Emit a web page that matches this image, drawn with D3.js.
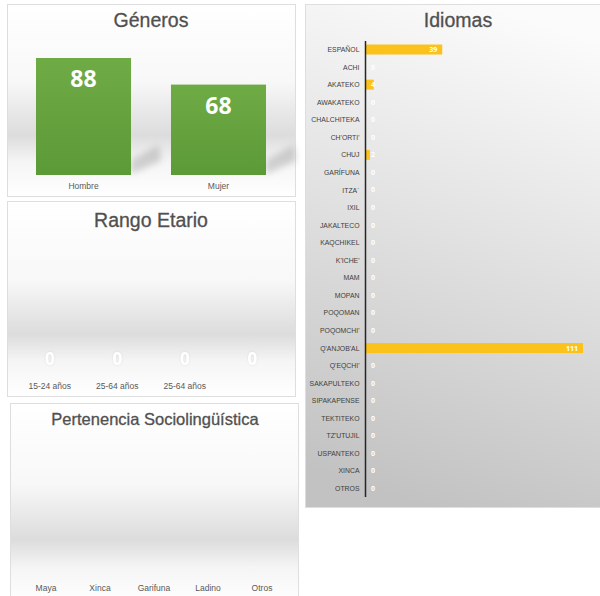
<!DOCTYPE html>
<html>
<head>
<meta charset="utf-8">
<script src="https://cdn.jsdelivr.net/npm/d3@7"></script>
<style>
  body { margin: 0; background: #fff; }
  svg { display: block; }
</style>
</head>
<body>
<div id="chart"></div>
<script>
// data
var generoCats = ["Hombre", "Mujer"];
var generoVals = [88, 68];

var edadCats = ["15-24 años", "25-64 años", "25-64 años", ""];
var edadVals = [0, 0, 0, 0];

var pertCats = ["Maya", "Xinca", "Garifuna", "Ladino", "Otros"];
var pertVals = [0, 0, 0, 0, 0];

var idiomaCats = ["ESPAÑOL", "ACHI", "AKATEKO", "AWAKATEKO", "CHALCHITEKA", "CH'ORTI'", "CHUJ",
  "GARÍFUNA", "ITZA´", "IXIL", "JAKALTECO", "KAQCHIKEL", "K'ICHE'", "MAM", "MOPAN", "POQOMAN",
  "POQOMCHI'", "Q'ANJOB'AL", "Q'EQCHI'", "SAKAPULTEKO", "SIPAKAPENSE", "TEKTITEKO", "TZ'UTUJIL",
  "USPANTEKO", "XINCA", "OTROS"];
var idiomaVals = [39, 0, 4, 0, 0, 0, 2, 0, 0, 0, 0, 0, 0, 0, 0, 0, 0, 111, 0, 0, 0, 0, 0, 0, 0, 0];

var svg = d3.select("#chart").append("svg")
  .attr("width", 600)
  .attr("height", 596);

var defs = svg.append("defs");

// floor-like background used by the three small panels
var floor = defs.append("linearGradient")
  .attr("id", "floor")
  .attr("x1", 0).attr("y1", 0).attr("x2", 0).attr("y2", 1);
floor.append("stop").attr("offset", "0%").attr("stop-color", "#ffffff");
floor.append("stop").attr("offset", "40%").attr("stop-color", "#f8f8f8");
floor.append("stop").attr("offset", "68%").attr("stop-color", "#dcdcdc");
floor.append("stop").attr("offset", "82%").attr("stop-color", "#f5f5f5");
floor.append("stop").attr("offset", "100%").attr("stop-color", "#ffffff");

var grayBg = defs.append("linearGradient")
  .attr("id", "grayBg")
  .attr("x1", 0.6).attr("y1", 0).attr("x2", 0.4).attr("y2", 1);
grayBg.append("stop").attr("offset", "0%").attr("stop-color", "#fbfbfb");
grayBg.append("stop").attr("offset", "45%").attr("stop-color", "#e2e2e2");
grayBg.append("stop").attr("offset", "100%").attr("stop-color", "#c2c2c2");

var green = defs.append("linearGradient")
  .attr("id", "green")
  .attr("x1", 0).attr("y1", 0).attr("x2", 0).attr("y2", 1);
green.append("stop").attr("offset", "0%").attr("stop-color", "#6fab45");
green.append("stop").attr("offset", "100%").attr("stop-color", "#5c9a38");

var blur = defs.append("filter").attr("id", "blur")
  .attr("x", "-50%").attr("y", "-50%").attr("width", "200%").attr("height", "200%");
blur.append("feGaussianBlur").attr("stdDeviation", 3);

var soft = defs.append("filter").attr("id", "soft")
  .attr("x", "-50%").attr("y", "-50%").attr("width", "200%").attr("height", "200%");
soft.append("feDropShadow").attr("dx", 0).attr("dy", 0).attr("stdDeviation", 1)
  .attr("flood-color", "#999").attr("flood-opacity", 0.25);

function panel(x, y, w, h, fill) {
  svg.append("rect")
    .attr("x", x).attr("y", y).attr("width", w).attr("height", h)
    .attr("fill", fill)
    .attr("stroke", "#dedede")
    .attr("stroke-width", 1);
}

function title(x, y, txt, size) {
  svg.append("text")
    .attr("x", x).attr("y", y)
    .attr("text-anchor", "middle")
    .attr("font-family", "Liberation Sans, Arial, sans-serif")
    .attr("font-size", size)
    .attr("fill", "#505050")
    .attr("stroke", "#505050")
    .attr("stroke-width", 0.3)
    .text(txt);
}

function catLabels(cats, xScale, y) {
  svg.append("g").selectAll("text")
    .data(cats)
    .enter()
    .append("text")
    .attr("x", (d, i) => xScale(i) + xScale.bandwidth() / 2)
    .attr("y", y)
    .attr("text-anchor", "middle")
    .attr("font-family", "Liberation Sans, Arial, sans-serif")
    .attr("font-size", 8.5)
    .attr("fill", "#595959")
    .text(d => d);
}

// ---- Géneros ----
panel(7.5, 4.5, 288, 192, "url(#floor)");
title(151, 27, "Géneros", 19.5);

var gx = d3.scaleBand()
  .domain(d3.range(generoCats.length))
  .range([36, 266])
  .paddingInner(0.296)
  .paddingOuter(0);
var gy = d3.scaleLinear()
  .domain([0, 88])
  .range([175, 58]);

// shadows cast behind bars
svg.append("g").selectAll("polygon")
  .data(generoVals)
  .enter()
  .append("polygon")
  .attr("points", function(d, i) {
    var x1 = gx(i) + gx.bandwidth();
    var b = gy(0);
    return [[x1, b - 1], [x1, b - 15], [x1 + 28, b - 30], [x1 + 30, b - 14]].join(" ");
  })
  .attr("fill", "#a0a0a0")
  .attr("opacity", 0.45)
  .attr("filter", "url(#blur)");

svg.append("g").selectAll("rect")
  .data(generoVals)
  .enter()
  .append("rect")
  .attr("x", (d, i) => gx(i))
  .attr("y", d => gy(d))
  .attr("width", gx.bandwidth())
  .attr("height", d => gy(0) - gy(d))
  .attr("fill", "url(#green)");

svg.append("g").selectAll("text")
  .data(generoVals)
  .enter()
  .append("text")
  .attr("x", (d, i) => gx(i) + gx.bandwidth() / 2)
  .attr("y", d => gy(d) + 29)
  .attr("text-anchor", "middle")
  .attr("font-family", "Open Sans, sans-serif")
  .attr("font-weight", "bold")
  .attr("font-size", 23)
  .attr("fill", "#fff")
  .text(d => d);

catLabels(generoCats, gx, 189);

// ---- Rango Etario ----
panel(7.5, 201.5, 288, 195, "url(#floor)");
title(151, 227, "Rango Etario", 19.5);

var ex = d3.scaleBand()
  .domain(d3.range(edadCats.length))
  .range([16, 286])
  .paddingInner(0.2)
  .paddingOuter(0.1);
var ey = d3.scaleLinear().domain([0, 10]).range([371, 250]);

svg.append("g").selectAll("text")
  .data(edadVals)
  .enter()
  .append("text")
  .attr("x", (d, i) => ex(i) + ex.bandwidth() / 2)
  .attr("y", d => ey(d) - 6)
  .attr("text-anchor", "middle")
  .attr("font-family", "Open Sans, sans-serif")
  .attr("font-weight", "bold")
  .attr("font-size", 17)
  .attr("fill", "#fff")
  .attr("filter", "url(#soft)")
  .text(d => d);

catLabels(edadCats, ex, 389);

// ---- Pertenencia Sociolingüística ----
panel(10.5, 403.5, 288, 200, "url(#floor)");
title(155, 425, "Pertenencia Sociolingüística", 16.5);

var px = d3.scaleBand()
  .domain(d3.range(pertCats.length))
  .range([19, 289])
  .paddingInner(0.3)
  .paddingOuter(0.15);
var py = d3.scaleLinear().domain([0, 10]).range([578, 450]);

svg.append("g").selectAll("rect")
  .data(pertVals)
  .enter()
  .append("rect")
  .attr("x", (d, i) => px(i))
  .attr("y", d => py(d))
  .attr("width", px.bandwidth())
  .attr("height", d => py(0) - py(d))
  .attr("fill", "url(#green)");

catLabels(pertCats, px, 591);

// ---- Idiomas ----
panel(305.5, 4.5, 300, 503, "url(#grayBg)");
title(458, 27, "Idiomas", 19.5);

var iy = d3.scaleBand()
  .domain(idiomaCats)
  .range([41, 497])
  .paddingInner(0.43)
  .paddingOuter(0.2);
var ix = d3.scaleLinear()
  .domain([0, 111])
  .range([366, 583]);

svg.append("g").selectAll("rect")
  .data(idiomaVals)
  .enter()
  .append("rect")
  .attr("x", ix(0))
  .attr("y", (d, i) => iy(idiomaCats[i]))
  .attr("width", d => ix(d) - ix(0))
  .attr("height", iy.bandwidth())
  .attr("fill", "#fcc21c");

svg.append("g").selectAll("text")
  .data(idiomaVals)
  .enter()
  .append("text")
  .attr("x", d => d > 8 ? ix(d) - 5 : ix(0) + 5)
  .attr("y", (d, i) => iy(idiomaCats[i]) + iy.bandwidth() / 2 + 2.5)
  .attr("text-anchor", d => d > 8 ? "end" : "start")
  .attr("font-family", "Open Sans, sans-serif")
  .attr("font-weight", "bold")
  .attr("font-size", 7)
  .attr("fill", "#fff")
  .text(d => d);

var yAxis = d3.axisLeft(iy).tickSize(0).tickPadding(7);
var ax = svg.append("g")
  .attr("transform", `translate(${ix(0) - 0.5},0)`)
  .call(yAxis);
ax.select(".domain")
  .attr("stroke", "#262626")
  .attr("stroke-width", 1.5)
  .attr("d", `M0,${iy.range()[0]}V${iy.range()[1]}`);
// condensed look for the language names
ax.selectAll("text")
  .attr("font-family", "Liberation Sans, Arial, sans-serif")
  .attr("font-size", 8)
  .attr("fill", "#404040")
  .attr("transform", "scale(0.86,1)");
</script>
</body>
</html>
